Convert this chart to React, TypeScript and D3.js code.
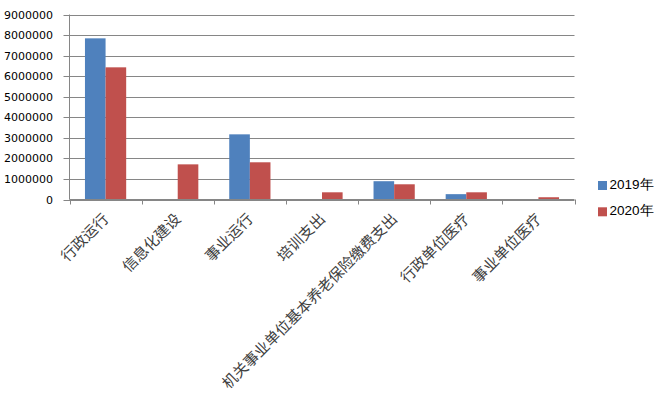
import React from "react";
import * as d3 from "d3";

const categories = [
  "行政运行",
  "信息化建设",
  "事业运行",
  "培训支出",
  "机关事业单位基本养老保险缴费支出",
  "行政单位医疗",
  "事业单位医疗",
];
const seriesNames = ["2019年", "2020年"];
const values2019 = [7840000, 0, 3170000, 0, 890000, 260000, 0];
const values2020 = [6430000, 1710000, 1810000, 350000, 740000, 350000, 110000];
const yTicks = [0, 1000000, 2000000, 3000000, 4000000, 5000000, 6000000, 7000000, 8000000, 9000000];
const colors = ["#4F81BD", "#C0504D"];

const W = 664;
const H = 394;
const left = 69.5;
const right = 574.5;
const top = 14.5;
const bottom = 199.5;

export default function App() {
  const x = d3.scaleBand<string>().domain(categories).range([left, right]).paddingInner(0).paddingOuter(0);
  const x1 = d3.scaleBand<string>().domain(seriesNames).range([0, x.bandwidth()]).paddingInner(0).paddingOuter(0.75);
  const y = d3.scaleLinear().domain([0, 9000000]).range([bottom, top]);
  const series = [values2019, values2020];
  const grid = "#868686";
  const boundaries = categories.map((c) => x(c) as number).concat([right]);

  return (
    <svg width={W} height={H} style={{ position: "absolute", left: 0, top: 0, background: "#fff" }}>
      {yTicks.map((t) => (
        <g key={t}>
          <line x1={left - 6} x2={t === 0 ? right : right} y1={Math.round(y(t)) + 0.5} y2={Math.round(y(t)) + 0.5} stroke={grid} strokeWidth={1} />
          <text x={53} y={Math.round(y(t)) + 0.5} dy="0.36em" textAnchor="end" fontFamily="DejaVu Sans, Verdana, sans-serif" fontSize={11} fill="#000">
            {t}
          </text>
        </g>
      ))}
      <line x1={left} x2={left} y1={top} y2={bottom} stroke={grid} strokeWidth={1} />
      {boundaries.map((b, i) => (
        <line key={i} x1={Math.round(b) + 0.5} x2={Math.round(b) + 0.5} y1={bottom} y2={bottom + 5} stroke={grid} strokeWidth={1} />
      ))}
      {series.map((vals, si) =>
        vals.map((v, ci) => {
          if (v <= 0) return null;
          const bx = (x(categories[ci]) as number) + (x1(seriesNames[si]) as number);
          return (
            <rect key={`${si}-${ci}`} x={bx} y={y(v)} width={x1.bandwidth()} height={bottom - y(v)} fill={colors[si]} />
          );
        })
      )}
      <line x1={left} x2={right} y1={bottom} y2={bottom} stroke={grid} strokeWidth={1} />
      {categories.map((c) => {
        const cx = (x(c) as number) + x.bandwidth() / 2 + 4;
        const cy = 220;
        return (
          <text key={c} transform={`translate(${cx},${cy}) rotate(-45)`} textAnchor="end" fontFamily="Noto Sans CJK SC, sans-serif" fontSize={15} fill="#404040">
            {c}
          </text>
        );
      })}
      {seriesNames.map((s, i) => (
        <g key={s}>
          <rect x={598} y={181 + i * 26.3} width={9} height={9} fill={colors[i]} />
          <text x={609.5} y={188.5 + i * 26.3} fontFamily="Liberation Sans, Arial, sans-serif" fontSize={13.5} fill="#000">
            {s}
          </text>
        </g>
      ))}
    </svg>
  );
}
